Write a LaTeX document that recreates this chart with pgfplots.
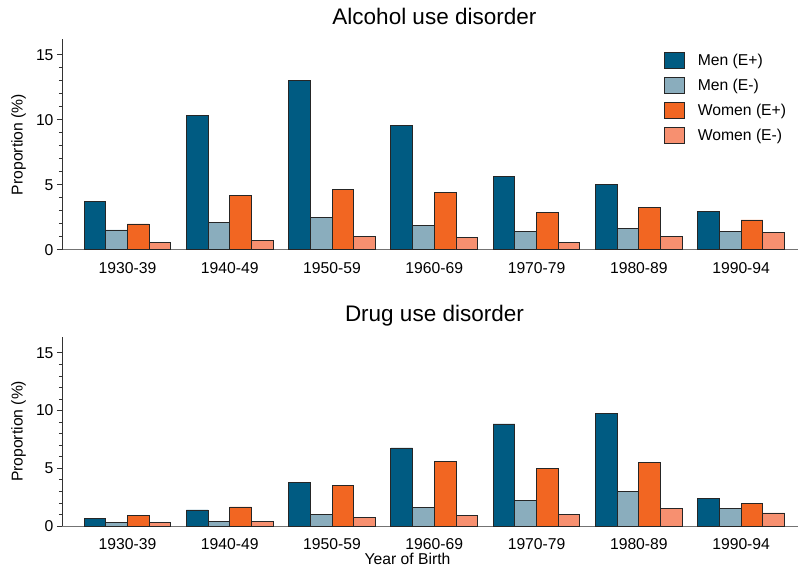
\documentclass[border=0pt]{standalone}
\usepackage{fontspec}
\setmainfont{Liberation Sans}
\usepackage{pgfplots}
\pgfplotsset{compat=1.18}
\usepackage{pgfplotstable}
\definecolor{menp}{HTML}{005B82}
\definecolor{menm}{HTML}{8AADBD}
\definecolor{womp}{HTML}{F26622}
\definecolor{womm}{HTML}{F79070}

\pgfplotstableread{
c a b d e
0 3.70 1.52 1.98 0.54
1 10.35 2.08 4.19 0.74
2 13.02 2.49 4.62 1.00
3 9.53 1.85 4.44 0.92
4 5.63 1.41 2.83 0.59
5 5.01 1.62 3.26 1.00
6 2.95 1.41 2.29 1.34
}\alc
\pgfplotstableread{
c a b d e
0 0.69 0.32 0.90 0.32
1 1.39 0.43 1.65 0.43
2 3.79 1.01 3.53 0.72
3 6.76 1.59 5.61 0.95
4 8.84 2.20 5.00 0.98
5 9.77 2.98 5.52 1.50
6 2.37 1.50 1.97 1.13
}\drug

\newcommand{\lf}{\fontsize{15.7bp}{18bp}\selectfont}
\pgfplotsset{
  barleg/.style={legend image code/.code={\draw[##1] (0bp,-8bp) rectangle (19.3bp,8bp);}},
  bars/.style={ybar, bar width=0.212, draw=black!85, line width=0.9bp, barleg},
  mystyle/.style={
    scale only axis, width=736bp,
    xmin=-0.640, xmax=6.556, ymin=0,
    axis x line=bottom, axis y line=left, axis line style={-},
    x axis line style={black!55, line width=1bp},
    y axis line style={black!80, line width=0.8bp},
    xtick={0,...,6},
    xticklabels={1930-39,1940-49,1950-59,1960-69,1970-79,1980-89,1990-94},
    xtick style={draw=none},
    ytick={0,5,10,15}, minor y tick num=4, tick align=outside,
    major tick length=5bp, minor tick length=3bp,
    ytick style={black!80, line width=0.8bp},
    tick label style={font=\lf},
    /pgf/number format/assume math mode=true,
    xticklabel style={anchor=base, yshift=-18.4bp},
    ylabel={Proportion (\%)},
    ylabel style={at={(axis description cs:-0.0591,0.5)}, anchor=center, font=\lf},
    title style={at={(axis description cs:0.506,1)}, anchor=base, yshift=9.3bp,
      font=\fontsize{22.5bp}{26bp}\selectfont},
    xlabel style={at={(axis description cs:0.4694,0)}, anchor=base, yshift=-38.5bp, font=\lf},
  }
}

\begin{document}
\begin{tikzpicture}
\begin{axis}[mystyle, at={(62bp,-249.7bp)}, anchor=south west, height=210.4bp, ymax=16.2,
  title={Alcohol use disorder},
  legend style={at={(axis description cs:0.818,0.941)}, anchor=north west, draw=none, fill=none,
    inner sep=0pt, row sep=8bp, font=\lf, nodes={inner sep=0pt}, cells={anchor=west},
    /tikz/every odd column/.append style={column sep=13.4bp}}]
\addplot[bars, fill=menp, bar shift=-0.318] table[x=c,y=a]{\alc};
\addplot[bars, fill=menm, bar shift=-0.106] table[x=c,y=b]{\alc};
\addplot[bars, fill=womp, bar shift=0.106] table[x=c,y=d]{\alc};
\addplot[bars, fill=womm, bar shift=0.318] table[x=c,y=e]{\alc};
\legend{Men (E+),Men (E-),Women (E+),Women (E-)}
\end{axis}
\begin{axis}[mystyle, at={(62bp,-526bp)}, anchor=south west, height=189.3bp, ymax=16.4,
  title={Drug use disorder}, xlabel={Year of Birth}]
\addplot[bars, fill=menp, bar shift=-0.318] table[x=c,y=a]{\drug};
\addplot[bars, fill=menm, bar shift=-0.106] table[x=c,y=b]{\drug};
\addplot[bars, fill=womp, bar shift=0.106] table[x=c,y=d]{\drug};
\addplot[bars, fill=womm, bar shift=0.318] table[x=c,y=e]{\drug};
\end{axis}
\pgfresetboundingbox
\path[use as bounding box] (0,0) rectangle (798bp,-567bp);
\end{tikzpicture}
\end{document}
